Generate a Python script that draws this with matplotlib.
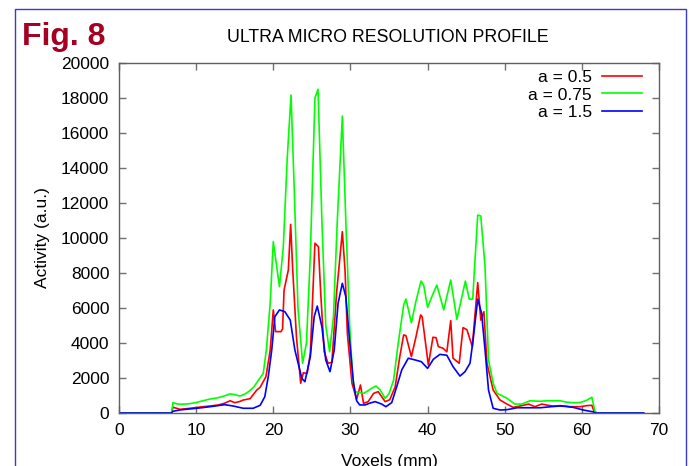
import matplotlib
import matplotlib.pyplot as plt
from matplotlib.patches import Rectangle

matplotlib.use("Agg")

# Profile data (x in mm, activity in a.u.)
x_05 = [0, 6.8, 7.0, 7.9, 8.8, 9.6, 10.7, 11.8, 12.9, 13.7, 14.4, 15.0, 15.6, 16.1, 17.0,
        17.85, 18.3, 19.05, 19.6, 20.0, 20.3, 21.0, 21.2, 21.4, 21.95, 22.25, 22.5, 23.0,
        23.55, 23.9, 24.4, 24.8, 25.2, 25.4, 25.85, 26.15, 26.6, 27.1, 27.6, 28.2, 28.95,
        29.3, 29.6, 30.2, 30.8, 31.3, 31.7, 32.3, 33.0, 33.6, 34.5, 35.1, 35.8, 36.4, 36.9,
        37.2, 37.9, 38.5, 39.1, 39.3, 40.1, 40.7, 41.1, 41.4, 42.0, 42.5, 43.0, 43.3, 44.1,
        44.6, 45.1, 45.8, 46.5, 46.9, 47.3, 47.7, 48.5, 49.4, 50.3, 51.1, 52.0, 53.1, 53.9,
        54.8, 55.5, 56.2, 57.3, 58.5, 59.8, 60.6, 61.3, 61.6, 62.0, 68.0]
y_05 = [0, 0, 330, 210, 250, 290, 350, 400, 460, 560, 700, 590, 650, 740, 820,
        1310, 1470, 2080, 3600, 5890, 4650, 4650, 4800, 7030, 8170, 10780, 8360, 4360,
        1700, 2300, 2260, 3410, 7600, 9700, 9500, 6840, 3500, 2840, 2900, 6840, 10360,
        8170, 4550, 1700, 780, 1600, 550, 650, 1120, 1220, 650, 760, 1500, 3220, 4460,
        4420, 3220, 4360, 5600, 5500, 2740, 4330, 4300, 3790, 3700, 3500, 5280, 3130, 2840,
        4880, 4760, 3790, 7450, 5310, 5790, 2840, 1310, 740, 510, 320, 400, 510, 360,
        510, 450, 400, 420, 360, 360, 420, 440, 60, 0, 0]

x_075 = [0, 6.8, 7.0, 7.5, 8.0, 9.0, 10.0, 10.9, 11.8, 12.7, 13.5, 14.4, 15.0, 15.7, 16.3,
         16.8, 17.5, 18.1, 18.7, 19.1, 19.6, 20.0, 20.4, 20.8, 21.3, 21.8, 22.3, 22.7, 23.2,
         23.8, 24.3, 24.8, 25.4, 25.8, 26.3, 26.8, 27.3, 27.8, 28.3, 28.95, 29.4, 29.9, 30.3,
         30.6, 31.2, 31.7, 32.2, 32.7, 33.3, 33.8, 34.5, 35.0, 35.6, 36.2, 36.9, 37.2, 37.9,
         38.5, 39.15, 39.5, 40.0, 40.6, 41.2, 42.1, 43.0, 43.8, 44.9, 45.4, 45.85, 46.5, 46.9,
         47.45, 47.9, 48.5, 49.0, 49.6, 50.3, 51.3, 52.2, 53.3, 54.6, 55.5, 56.4, 57.2, 58.0,
         58.9, 59.8, 60.6, 61.3, 61.7, 62.0, 68.0]
y_075 = [0, 0, 600, 520, 500, 520, 600, 700, 800, 860, 950, 1090, 1050, 970, 1080,
         1220, 1500, 1890, 2270, 3600, 6270, 9790, 8500, 7220, 9500, 14500, 18170, 13000, 6000,
         2840, 4000, 9000, 18000, 18500, 11000, 5000, 3500, 5500, 11000, 16970, 11000, 5000, 2000,
         1220, 1160, 1120, 1250, 1400, 1540, 1350, 840, 1100, 1890, 4000, 6170, 6510, 5160,
         6400, 7540, 7300, 6040, 6700, 7310, 5890, 7600, 5350, 7540, 6510, 6510, 11310, 11260,
         8360, 3030, 1700, 1120, 1000, 840, 510, 510, 700, 670, 700, 700, 700, 620,
         590, 600, 720, 900, 70, 0, 0]

x_15 = [0, 6.8, 7.0, 8.0, 9.6, 10.7, 11.8, 12.8, 13.7, 14.8, 16.1, 17.4, 18.3, 18.9, 19.35,
        19.8, 20.2, 20.8, 21.5, 22.2, 22.8, 23.7, 24.1, 24.8, 25.3, 25.7, 26.3, 26.8, 27.35,
        27.9, 28.4, 28.95, 29.4, 29.85, 30.4, 30.8, 31.2, 31.9, 32.5, 33.2, 34.05, 34.6, 35.35,
        36.0, 36.65, 37.5, 38.4, 39.2, 40.0, 40.75, 41.6, 42.5, 43.3, 44.2, 44.85, 45.5, 45.9,
        46.5, 47.0, 47.45, 47.9, 48.5, 49.4, 50.3, 51.6, 53.0, 54.6, 56.0, 57.2, 58.0, 58.9,
        60.2, 61.5, 61.8, 68.0]
y_15 = [0, 0, 100, 180, 250, 300, 360, 420, 475, 400, 270, 270, 440, 930, 2080,
        3600, 5500, 5890, 5790, 5310, 3600, 1980, 1790, 3220, 5500, 6110, 4930, 3030, 2360,
        3600, 6270, 7410, 6650, 4360, 1700, 700, 460, 460, 560, 650, 510, 360, 590,
        1500, 2460, 3130, 3030, 2930, 2550, 3070, 3350, 3300, 2650, 2110, 2360, 2840, 4170,
        6510, 5700, 3600, 1310, 270, 170, 190, 300, 300, 300, 360, 400, 370, 320,
        170, 60, 0, 0]

series = [("a = 0.5", x_05, y_05, "#ff0000"),
          ("a = 0.75", x_075, y_075, "#00ff00"),
          ("a = 1.5", x_15, y_15, "#0000ff")]

plt.rcParams['font.family'] = ['Liberation Sans', 'DejaVu Sans']

W, H = 689, 466
fig = plt.figure(figsize=(W / 100, H / 100), dpi=100)
fig.patch.set_facecolor('white')

# blue page frame
fig.add_artist(Rectangle((15 / W, -0.05), 671 / W, 1 - 9 / H + 0.05,
                         transform=fig.transFigure, fill=False,
                         edgecolor='#3a3ad0', linewidth=1.0))

ax = fig.add_axes([119 / W, (H - 413) / H, 540 / W, 350 / H])

for label, xs, ys, col in series:
    ax.plot(xs, ys, color=col, linewidth=1.2, label=label)

ax.set_xlim(0, 70)
ax.set_ylim(0, 20000)
ax.set_xticks(range(0, 71, 10))
ax.set_yticks(range(0, 20001, 2000))
ax.tick_params(direction='in', length=5, width=1, color='#707070',
               top=True, right=True, labelsize=12.5, pad=7)
for s in ax.spines.values():
    s.set_edgecolor('#606060')
    s.set_linewidth(1)

ax.set_xlabel("Voxels (mm)", fontsize=12.5, labelpad=12)
ax.set_ylabel("Activity (a.u.)", fontsize=12.5, labelpad=8)

leg = ax.legend(loc='upper right', bbox_to_anchor=(1 - 5 / 540, 1 + 5 / 350),
                frameon=False, markerfirst=False,
                fontsize=12.5, handlelength=2.3, labelspacing=0.12,
                borderaxespad=0.3, handletextpad=0.57)

fig.text(22 / W, 1 - 45 / H, "Fig. 8", color='#a50021', fontsize=23,
         fontweight='bold')
fig.text(388 / W, 1 - 42 / H, "ULTRA MICRO RESOLUTION PROFILE",
         ha='center', va='baseline', fontsize=12.8)

fig.savefig("out.png", dpi=100)
